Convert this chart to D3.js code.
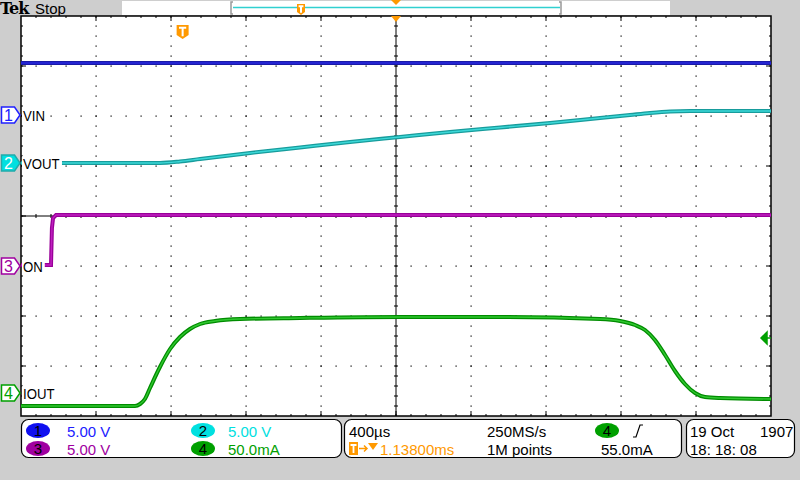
<!DOCTYPE html>
<html><head><meta charset="utf-8">
<script src="https://cdn.jsdelivr.net/npm/d3@7"></script>
<style>html,body{margin:0;padding:0;background:#cecece;}svg{display:block;}</style>
</head><body>
<svg id="c" width="800" height="480"></svg>
<script>
// ---- data (time in ms relative to trigger) ----
const vinTime   = [-0.862, 3.138];
const vinValues = [5.2, 5.2];                      // V
const voutTime   = [-0.862, -0.121, -0.014, 0.093, 0.360, 0.626, 0.893, 1.159, 1.426, 1.693, 1.960, 2.226, 2.386, 2.493, 2.600, 2.706, 3.138];
const voutValues = [0, 0, 0.15, 0.4, 1.0, 1.55, 2.1, 2.6, 3.1, 3.55, 4.0, 4.5, 4.8, 5.0, 5.15, 5.2, 5.2]; // V
const onTime   = [-0.862, -0.702, -0.697, -0.691, -0.675, 3.138];
const onValues = [0.1, 0.1, 3.8, 4.8, 5.1, 5.1];  // V
const ioutTime   = [-0.862, -0.254, -0.227, -0.201, -0.174, -0.121, -0.067, -0.014, 0.039, 0.093, 0.173, 0.306, 0.626, 1.159, 1.693, 2.226, 2.333, 2.413, 2.466, 2.519, 2.573, 2.626, 2.679, 2.733, 2.786, 2.866, 3.138];
const ioutValues = [-13, -13, -11, -6, 5, 26, 44, 56, 64, 69, 72, 74, 75, 76, 76, 74, 72, 68, 63, 53, 38, 22, 9, 0, -4, -5, -6]; // mA
const channelNames  = ["VIN", "VOUT", "ON", "IOUT"];
const channelScales = ["5.00 V", "5.00 V", "5.00 V", "50.0mA"];
const timebase = "400\u00b5s", trigPos = "1.13800ms", sampleRate = "250MS/s", recLen = "1M points", trigLevel = "55.0mA";
const dateText = "19 Oct", yearText = "1907", timeText = "18: 18: 08";

// ---- settings ----
const chans = [
  {n:1, name:channelNames[0], t:vinTime,  v:vinValues,  div:5,  pos:2.02,  col:"#1a1aa8", light:"#2a2ae0", txt:"#2020ff"},
  {n:2, name:channelNames[1], t:voutTime, v:voutValues, div:5,  pos:1.06,  col:"#179c9c", light:"#3cd8d8", txt:"#00e0e0"},
  {n:3, name:channelNames[2], t:onTime,   v:onValues,   div:5,  pos:-1.0,  col:"#980098", light:"#c020c0", txt:"#a000a0"},
  {n:4, name:channelNames[3], t:ioutTime, v:ioutValues, div:50, pos:-3.54, col:"#008c00", light:"#30c830", txt:"#00a000"}
];
const L=21, R=771, T=16, B=416;
const svg = d3.select("#c");
const x = d3.scaleLinear().domain([-0.862, 3.138]).range([L, R]);
const y = d3.scaleLinear().domain([-4, 4]).range([B, T]);
const font = "'Liberation Sans', Arial, sans-serif";

svg.append("rect").attr("width",800).attr("height",480).attr("fill","#cecece");
// top bar
svg.append("text").attr("x",0).attr("y",14).attr("font-family","'DejaVu Serif','Liberation Serif',serif").attr("font-weight","bold").attr("font-size",16).attr("letter-spacing",-1).text("Tek");
svg.append("text").attr("x",35).attr("y",14).attr("font-family",font).attr("font-size",15).text("Stop");
svg.append("rect").attr("x",122).attr("y",1).attr("width",548).attr("height",14).attr("fill","#fff");
svg.append("path").attr("d","M233,2 h-2 v12 h2 M559,2 h2 v12 h-2").attr("fill","none").attr("stroke","#999").attr("stroke-width",1.5);
svg.append("line").attr("x1",233).attr("x2",560).attr("y1",7.5).attr("y2",7.5).attr("stroke","#30d0d0").attr("stroke-width",1.5);
svg.append("path").attr("d","M391,0 h10 l-5,5 z").attr("fill","#ff9900");
function tMark(cx, top, w, h){
  const g = svg.append("g");
  g.append("path").attr("d",`M${cx-w/2},${top} h${w} v${h*0.72} l${-w/2},${h*0.28} l${-w/2},${-h*0.28} z`).attr("fill","#ff9900");
  g.append("path").attr("d",`M${cx-w*0.3},${top+h*0.2} h${w*0.6} M${cx},${top+h*0.2} v${h*0.6}`).attr("stroke","#fff").attr("stroke-width",2);
}
tMark(301, 4, 8, 11);

// graticule
const plot = svg.append("g");
plot.append("rect").attr("x",L).attr("y",T).attr("width",R-L).attr("height",B-T).attr("fill","#fff");
const dots = [];
for (let i=1;i<10;i++){ if(i===5) continue; const xx=L+i*75; for(let yy=T+10; yy<B; yy+=10) dots.push([xx,yy]); }
for (let j=1;j<8;j++){ if(j===4) continue; const yy=T+j*50; for(let xx=L+15; xx<R; xx+=15) dots.push([xx,yy]); }
plot.selectAll(".d").data(dots).enter().append("rect").attr("x",d=>d[0]-0.5).attr("y",d=>d[1]-0.5).attr("width",1.2).attr("height",1.2).attr("fill","#000");
const tk = [];
for(let xx=L+15; xx<R; xx+=15){ tk.push([xx,T,xx,T+2]); tk.push([xx,B-2,xx,B]); }
for(let yy=T+10; yy<B; yy+=10){ tk.push([L,yy,L+2,yy]); tk.push([R-2,yy,R,yy]); }
const cx0 = L+375, cy0 = T+200;
for(let xx=L+15; xx<R; xx+=15) tk.push([xx,cy0-2,xx,cy0+2]);
for(let yy=T+10; yy<B; yy+=10) tk.push([cx0-2,yy,cx0+2,yy]);
for (let i=1;i<10;i++){ const xx=L+i*75; tk.push([xx,T,xx,T+5]); tk.push([xx,B-5,xx,B]); }
for (let j=1;j<8;j++){ const yy=T+j*50; tk.push([L,yy,L+5,yy]); tk.push([R-5,yy,R,yy]); }
plot.selectAll(".t").data(tk).enter().append("line").attr("x1",d=>d[0]).attr("y1",d=>d[1]).attr("x2",d=>d[2]).attr("y2",d=>d[3]).attr("stroke","#000").attr("stroke-width",1);
plot.append("line").attr("x1",cx0).attr("x2",cx0).attr("y1",T).attr("y2",B).attr("stroke","#000");
plot.append("line").attr("x1",L).attr("x2",R).attr("y1",cy0).attr("y2",cy0).attr("stroke","#000");
plot.append("rect").attr("x",L).attr("y",T).attr("width",R-L).attr("height",B-T).attr("fill","none").attr("stroke","#000").attr("stroke-width",1.5);

// traces
const drawOrder = [chans[0], chans[1], chans[3], chans[2]];
drawOrder.forEach(c=>{
  const pts = c.t.map((t,i)=>[t, c.v[i]]);
  const line = d3.line().x(d=>x(d[0])).y(d=>y(c.pos + d[1]/c.div)).curve(c.n===3 ? d3.curveLinear : d3.curveMonotoneX);
  plot.append("path").attr("d",line(pts)).attr("fill","none").attr("stroke",c.col).attr("stroke-width",4);
  plot.append("path").attr("d",line(pts)).attr("fill","none").attr("stroke",c.light).attr("stroke-width",1.4);
});

// labels & markers
chans.forEach(c=>{
  const yy = y(c.pos);
  const lab = plot.append("text").attr("x",23).attr("y",yy+6).attr("font-family",font).attr("font-size",15)
    .attr("transform",`translate(23,0) scale(0.88,1) translate(-23,0)`).attr("fill","#000").text(c.name);
  const bb = lab.node().getBBox();
  plot.insert("rect","text").attr("x",bb.x-1).attr("y",bb.y+1).attr("width",bb.width*0.88+3).attr("height",bb.height-2).attr("fill","#fff");
  const filled = c.n===2;
  svg.append("path").attr("d",`M1.5,${yy-8} h13 l5.5,8 l-5.5,8 h-13 z`).attr("fill",filled?c.txt:"#fff").attr("stroke",filled?"#2aa":c.txt).attr("stroke-width",1.5);
  svg.append("text").attr("x",8.5).attr("y",yy+6).attr("text-anchor","middle").attr("font-family",font).attr("font-size",16).attr("fill",filled?"#fff":c.txt).text(c.n);
});
plot.selectAll("text").raise();

// trigger markers
tMark(x(0), 25, 12, 14);
svg.append("path").attr("d",`M${cx0-5},${T} h10 l-5,6 z`).attr("fill","#ff9900");
const trigY = y(chans[3].pos + 55/chans[3].div);
svg.append("path").attr("d",`M761,${trigY} l6,-6 v12 z M765,${trigY} H${R}`).attr("fill","#00a000").attr("stroke","#00a000").attr("stroke-width",1.5);

// status bar
function box(x0,w){ svg.append("rect").attr("x",x0).attr("y",419.5).attr("width",w).attr("height",38).attr("rx",7).attr("fill","#fff").attr("stroke","#000").attr("stroke-width",1.2); }
box(21.5,320); box(344.5,337); box(686.5,108);
function txt(s,xx,yy,col){ return svg.append("text").attr("x",xx).attr("y",yy).attr("font-family",font).attr("font-size",15).attr("fill",col||"#000").text(s); }
function oval(n,cxx,cyy,col){ svg.append("ellipse").attr("cx",cxx).attr("cy",cyy).attr("rx",12).attr("ry",7.5).attr("fill",col); svg.append("text").attr("x",cxx).attr("y",cyy+5).attr("text-anchor","middle").attr("font-family",font).attr("font-size",15).attr("fill","#000").text(n); }
const r1 = 437, r2 = 455;
oval(1,38,430.5,"#1010f0"); txt(channelScales[0],67,r1,chans[0].txt);
oval(2,203,430.5,"#00e0e0"); txt(channelScales[1],228,r1,chans[1].txt);
oval(3,38,448.5,"#a000a0"); txt(channelScales[2],67,r2,chans[2].txt);
oval(4,203,448.5,"#00a000"); txt(channelScales[3],228,r2,chans[3].txt);
txt(timebase,349,r1);
svg.append("rect").attr("x",349).attr("y",442).attr("width",9).attr("height",13).attr("fill","#ff9900");
svg.append("path").attr("d","M350.5,445 h6 M353.5,445 v8").attr("stroke","#fff").attr("stroke-width",1.8);
svg.append("path").attr("d","M359,448.5 h8 M364,445.5 l3,3 l-3,3").attr("stroke","#ff9900").attr("stroke-width",1.5).attr("fill","none");
svg.append("path").attr("d","M368,443 h10 l-5,7 z").attr("fill","#ff9900");
txt(trigPos,380,r2,"#ff9900");
txt(sampleRate,487,r1); txt(recLen,487,r2);
oval(4,607,430.5,"#00a000");
svg.append("path").attr("d","M633,437 h3 l4,-12 h3").attr("stroke","#000").attr("stroke-width",1.2).attr("fill","none");
txt(trigLevel,601,r2);
txt(dateText,690,r1); txt(yearText,760,r1); txt(timeText,690,r2);
</script>
</body></html>
